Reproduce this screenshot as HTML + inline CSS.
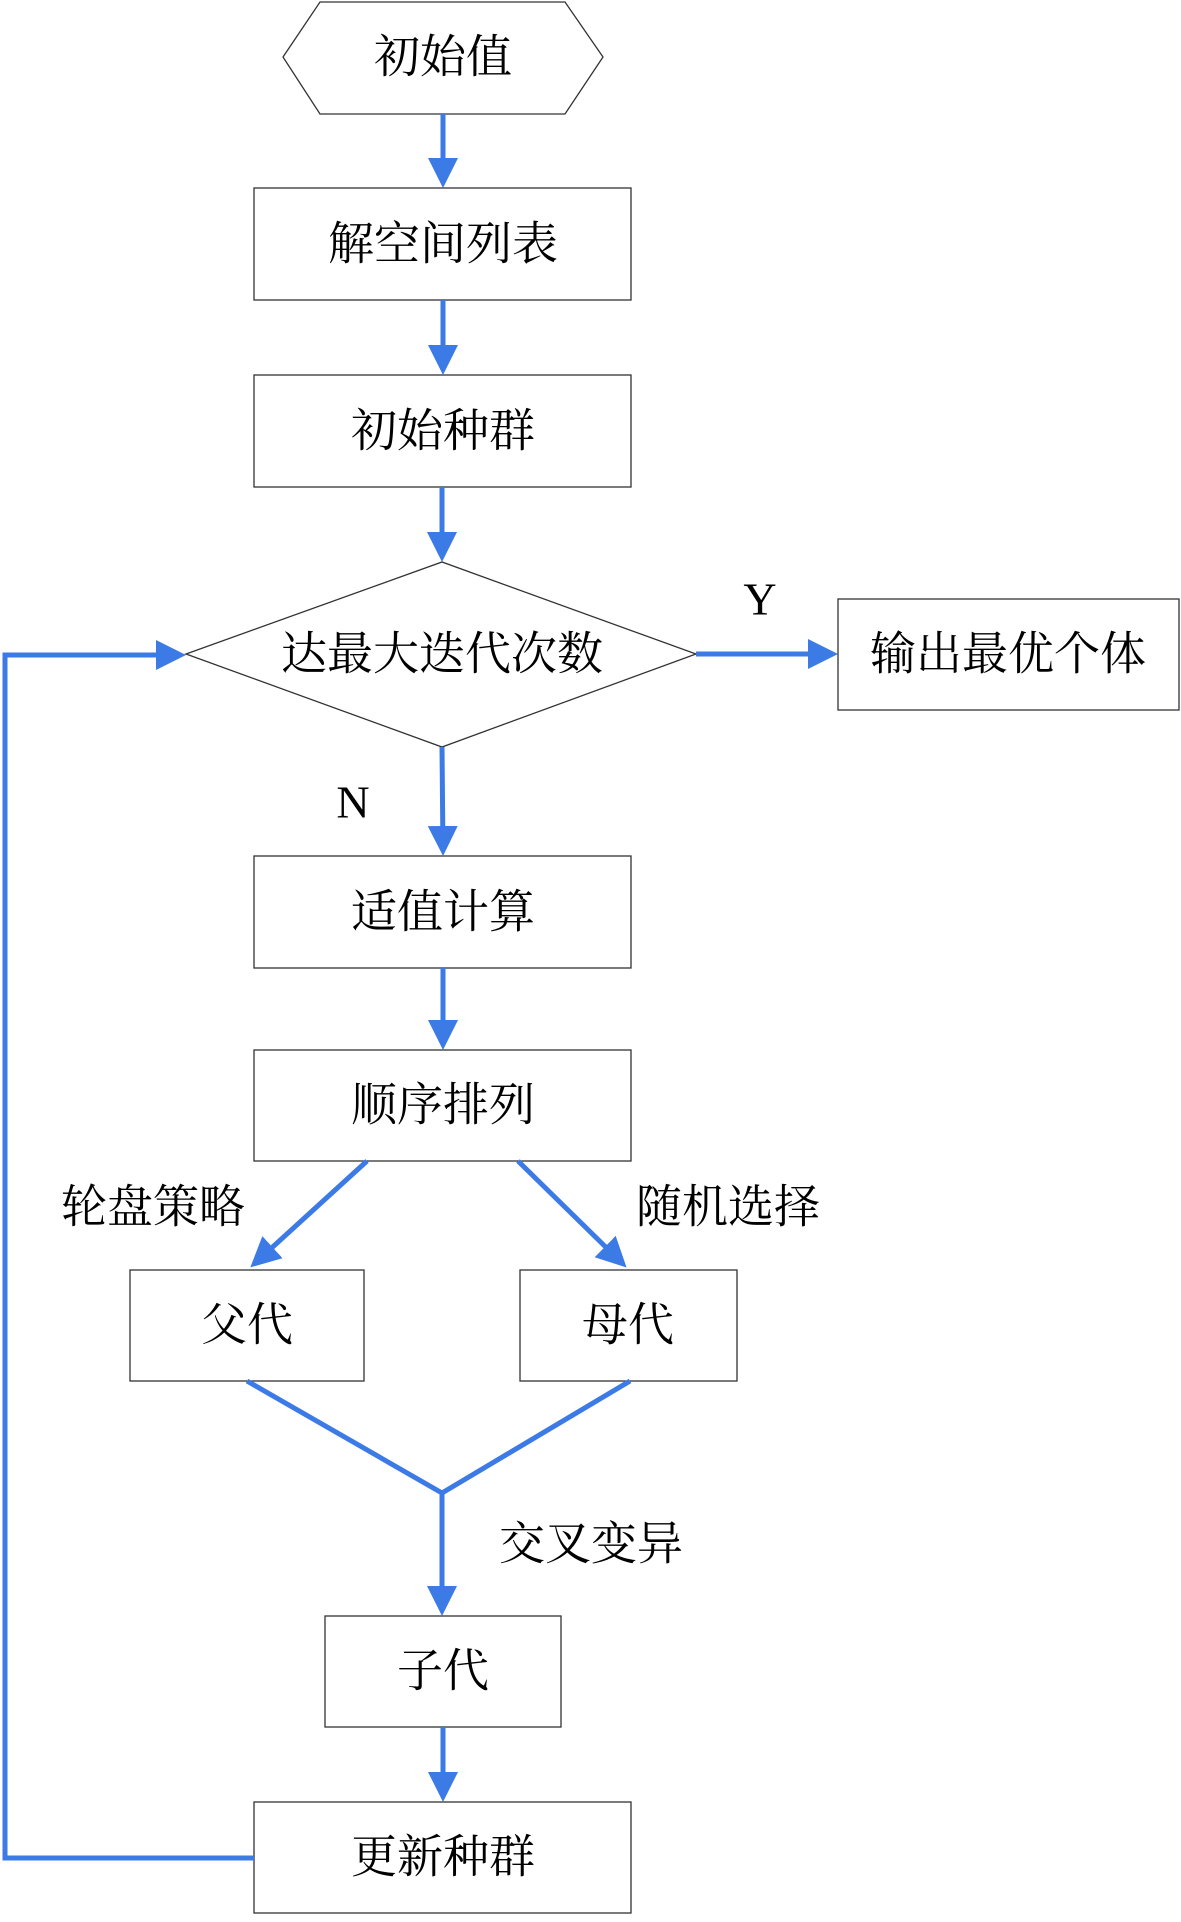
<!DOCTYPE html>
<html><head><meta charset="utf-8"><style>
html,body{margin:0;padding:0;background:#fff;}
svg text{font-family:"Liberation Serif","Noto Serif CJK SC",serif;font-size:46px;fill:#000;text-anchor:middle;dominant-baseline:central;}
</style></head><body>
<svg width="1181" height="1917" viewBox="0 0 1181 1917" xmlns="http://www.w3.org/2000/svg">
<defs><marker id="a" markerWidth="6" markerHeight="6" refX="5" refY="3" orient="auto" markerUnits="strokeWidth"><path d="M0,0 L6,3 L0,6 Z" fill="#3c7ae6"/></marker></defs>
<g fill="#fff" stroke="#333" stroke-width="1.3">
<polygon points="283,57 320,2 565,2 603,57 565,114 320,114"/>
<rect x="254" y="188" width="377" height="112"/>
<rect x="254" y="375" width="377" height="112"/>
<polygon points="186,654 442,562 696,654 442,747"/>
<rect x="838" y="599" width="341" height="111"/>
<rect x="254" y="856" width="377" height="112"/>
<rect x="254" y="1050" width="377" height="111"/>
<rect x="130" y="1270" width="234" height="111"/>
<rect x="520" y="1270" width="217" height="111"/>
<rect x="325" y="1616" width="236" height="111"/>
<rect x="254" y="1802" width="377" height="111"/>
</g>
<g stroke="#3c7ae6" stroke-width="5" fill="none">
<line x1="443" y1="114" x2="443" y2="183" marker-end="url(#a)"/>
<line x1="443" y1="300" x2="443" y2="370" marker-end="url(#a)"/>
<line x1="442" y1="487" x2="442" y2="557" marker-end="url(#a)"/>
<line x1="696" y1="654" x2="833" y2="654" marker-end="url(#a)"/>
<line x1="442" y1="747" x2="443" y2="851" marker-end="url(#a)"/>
<line x1="443" y1="968" x2="443" y2="1045" marker-end="url(#a)"/>
<line x1="367" y1="1161" x2="254" y2="1264" marker-end="url(#a)"/>
<line x1="518" y1="1161" x2="623" y2="1264" marker-end="url(#a)"/>
<polyline points="247,1381 442,1493 630,1381"/>
<line x1="442" y1="1493" x2="442" y2="1611" marker-end="url(#a)"/>
<line x1="443" y1="1727" x2="443" y2="1797" marker-end="url(#a)"/>
<polyline points="254,1858 5,1858 5,655 181,655" marker-end="url(#a)"/>
</g>
<text x="443" y="57">初始值</text>
<text x="443" y="244">解空间列表</text>
<text x="443" y="431">初始种群</text>
<text x="442" y="654">达最大迭代次数</text>
<text x="1008" y="654">输出最优个体</text>
<text x="760" y="599">Y</text>
<text x="353" y="802">N</text>
<text x="443" y="912">适值计算</text>
<text x="443" y="1105">顺序排列</text>
<text x="153" y="1207">轮盘策略</text>
<text x="728" y="1207">随机选择</text>
<text x="247" y="1325">父代</text>
<text x="628" y="1325">母代</text>
<text x="591" y="1544">交叉变异</text>
<text x="443" y="1671">子代</text>
<text x="443" y="1857">更新种群</text>
</svg>
</body></html>
